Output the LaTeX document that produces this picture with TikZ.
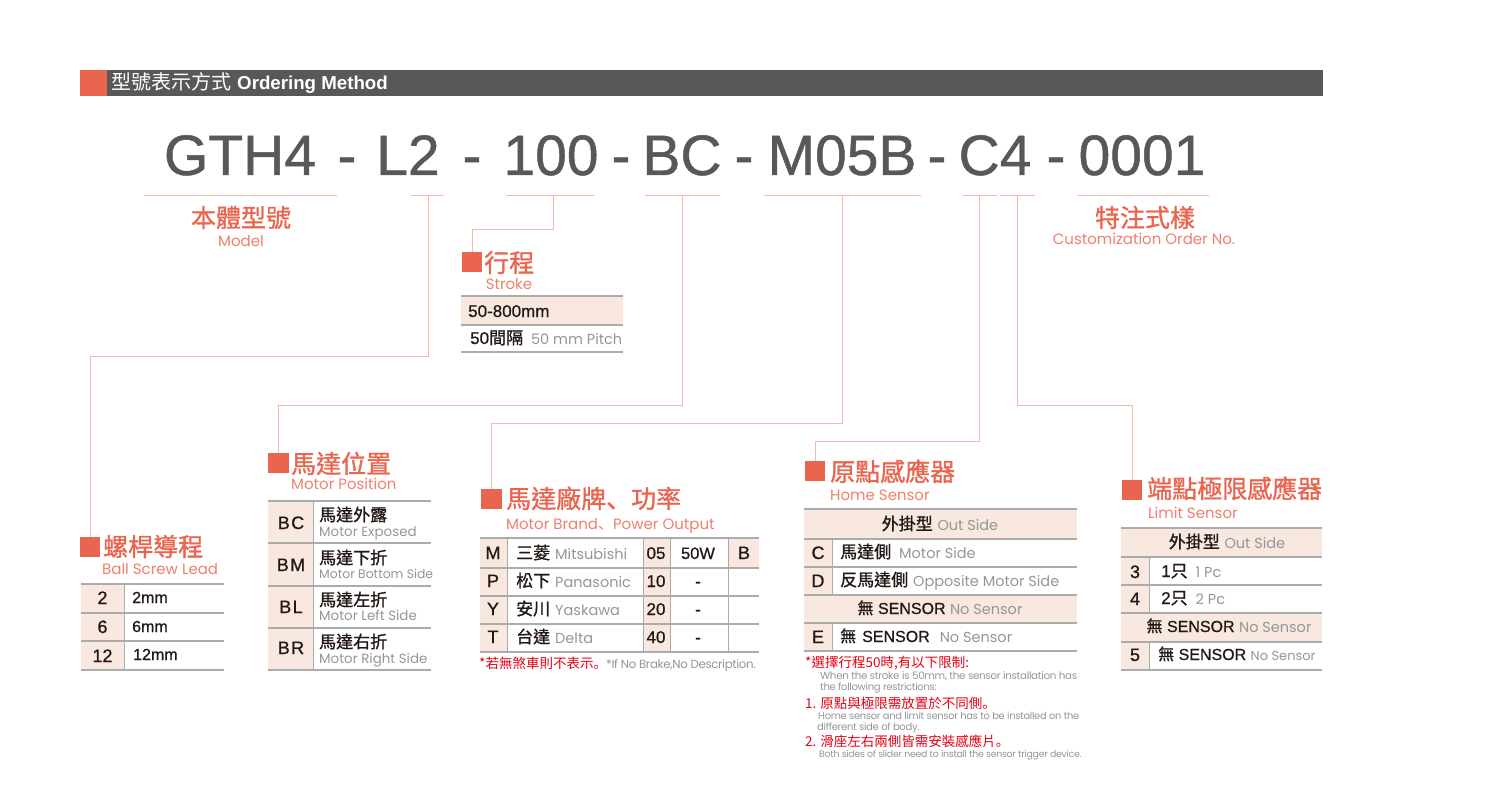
\documentclass[tikz,border=0pt]{standalone}
\usepackage{fontspec}
\setmainfont{Liberation Sans}
\newfontfamily\zh{Noto Sans CJK TC}
\newfontfamily\zhm{Noto Sans CJK TC}[FakeBold=1.2]
\newfontfamily\zhp{Noto Sans CJK SC}
\newfontfamily\zhpm{Noto Sans CJK SC}[FakeBold=1.2]
\newfontfamily\semi{Liberation Sans}[FakeBold=0.8]
\newfontfamily\en{Poppins}
\newfontfamily\entight{Poppins}[LetterSpace=-3]
\definecolor{coral}{HTML}{E9654F}
\definecolor{coralsub}{HTML}{EF7F6E}
\definecolor{leaderline}{HTML}{F7B7AB}
\definecolor{beige}{HTML}{F8E8E0}
\definecolor{rulegrey}{HTML}{ABABAB}
\definecolor{headdark}{HTML}{595757}
\definecolor{ink}{HTML}{231815}
\definecolor{greytext}{HTML}{959595}
\definecolor{notered}{HTML}{E60012}
\newcommand\zb[1]{{\zhm #1}}
\newcommand\gr[2][14.5]{{\en\fontsize{#1}{#1}\selectfont\color{greytext}#2}}
\tikzset{
  leader/.style={draw=leaderline, line width=.9pt},
  under/.style={draw=leaderline, line width=1pt},
  rowrule/.style={draw=rulegrey, line width=1.2pt},
  colrule/.style={draw=rulegrey, line width=1pt},
  titlebox/.style={fill=coral, inner sep=0pt, minimum size=20.5pt},
  title/.style={anchor=base west, inner sep=0pt, text=coral, font=\zhm\fontsize{25}{25}\selectfont},
  subtitle/.style={anchor=base west, inner sep=0pt, text=coralsub, font=\en\fontsize{15}{15}\selectfont},
  codepart/.style={anchor=base, inner sep=0pt, text=headdark, font=\semi\fontsize{57}{57}\selectfont},
  cell/.style={anchor=base west, inner sep=0pt, text=ink, font=\semi\fontsize{17}{17}\selectfont},
  key/.style={anchor=base, inner sep=0pt, text=ink, font=\semi\fontsize{18}{18}\selectfont},
  rednote/.style={anchor=base west, inner sep=0pt, text=notered, font=\zh\fontsize{13.5}{13.5}\selectfont},
  greynote/.style={anchor=base west, inner sep=0pt, text=greytext, font=\entight\fontsize{10}{10}\selectfont},
}
\begin{document}
\begin{tikzpicture}[x=1pt,y=-1pt]
\useasboundingbox (0,0) rectangle (1495,794);
\fill[headdark] (80,70) rectangle (1323,96);
\fill[coral] (80,70) rectangle (107,96);
\node[anchor=base west, inner sep=0pt, text=white] (head) at (111,90)
  {{\zh\fontsize{20}{20}\selectfont 型號表示方式}\hspace{6pt}{\bfseries\fontsize{18.7}{18.7}\selectfont Ordering Method}};
\foreach \x/\part/\name in {240/GTH4/gth,347/-/da,408/L2/ltwo,472/-/db,551/100/strk,621/-/dc,682/BC/bc,744/-/dd,842/M05B/mzero,937/-/de,995/C4/cfour,1056/-/df,1142/0001/order}
  \node[codepart] (\name) at (\x,175) {\part};
\foreach \a/\b in {144/337,411/444,506/594,645/720,764/921,963/997,1000/1035,1078/1209}
  \draw[under] (\a,196) -- (\b,196);
\coordinate (tickl) at (428,196);
\coordinate (tickst) at (553,196);
\coordinate (tickbc) at (682,196);
\coordinate (tickm) at (842,196);
\coordinate (tickc) at (979,196);
\coordinate (tickd) at (1017,196);

\node[title, anchor=base] (modelzh) at (241,227) {本體型號};
\node[subtitle, anchor=base] (modelen) at (241,247) {Model};
\node[title, anchor=base] (orderzh) at (1145,227) {特注式樣};
\node[subtitle, anchor=base] (orderen) at (1144,244) {Customization Order No.};

\node[titlebox] (strokebox) at (472,262) {};
\node[titlebox] (leadbox) at (90,547) {};
\node[titlebox] (posbox) at (278.5,463) {};
\node[titlebox] (brandbox) at (491.5,499) {};
\node[titlebox] (homebox) at (815,471) {};
\node[titlebox] (limitbox) at (1132,490) {};

\draw[leader] (tickl) -- (tickl|-0,356) -| (leadbox);
\draw[leader] (tickst) -- (tickst|-0,229) -| (strokebox);
\draw[leader] (tickbc) -- (tickbc|-0,405) -| (posbox);
\draw[leader] (tickm) -- (tickm|-0,423) -| (brandbox);
\draw[leader] (tickc) -- (tickc|-0,441) -| (homebox);
\draw[leader] (tickd) -- (tickd|-0,405) -| (limitbox);

\node[title] (strokezh) at (484,272) {行程};
\node[subtitle, anchor=base] (strokeen) at (509,289) {Stroke};
\fill[beige] (461,296) rectangle (623,325);
\foreach \y in {296,325,352} \draw[rowrule] (461,\y) -- (623,\y);
\node[cell] (strokea) at (468,317) {50-800mm};
\node[cell] (strokeb) at (470,344) {50\zb{間隔}\hspace{8pt}\gr{50 mm Pitch}};

\node[title] (leadzh) at (103,556) {螺桿導程};
\node[subtitle] (leaden) at (102,574) {Ball Screw Lead};
\fill[beige] (81,584) rectangle (124,670);
\foreach \y in {584,613,641,670} \draw[rowrule] (81,\y) -- (224,\y);
\draw[colrule] (124,584) -- (124,670);
\foreach \c/\yk/\t/\yt/\xt [count=\i] in {2/604/2mm/603/132,6/633/6mm/632/132,12/662/12mm/660/133}{
  \node[key] (leadkey\i) at (102.5,\yk) {\c};
  \node[cell, font=\semi\fontsize{16}{16}\selectfont] (leadtxt\i) at (\xt,\yt) {\t};
}

\node[title] (poszh) at (291,473) {馬達位置};
\node[subtitle] (posen) at (291,489) {Motor Position};
\fill[beige] (268,501) rectangle (313,670);
\foreach \y in {501,543,586,628,670} \draw[rowrule] (268,\y) -- (431,\y);
\draw[colrule] (313,501) -- (313,670);
\foreach \c/\yk/\zht/\yz/\ent/\ye [count=\i] in {BC/529/馬達外露/521/Motor Exposed/536,BM/571/馬達下折/564/Motor Bottom Side/578,BL/613/馬達左折/606/Motor Left Side/620,BR/654/馬達右折/648/Motor Right Side/663}{
  \node[key, font=\semi\fontsize{18}{18}\selectfont\addfontfeature{LetterSpace=8}] (poskey\i) at (291,\yk) {\c};
  \node[cell] (poszh\i) at (319,\yz) {\zb{\zht}};
  \node[cell] (posen\i) at (319,\ye) {\gr[\ifnum\i=2 12.4\else 13.4\fi]{\ent}};
}

\node[title] (brandzh) at (506,508) {馬達廠牌{\zhpm 、}功率};
\node[subtitle] (branden) at (506,529) {Motor Brand{\zhp、}Power Output};
\fill[beige] (480,538) rectangle (507,652);
\fill[beige] (643,538) rectangle (670,652);
\fill[beige] (728,538) rectangle (759,568);
\foreach \y in {538,568,596,624,652} \draw[rowrule] (480,\y) -- (759,\y);
\foreach \x in {507,643,670,728} \draw[colrule] (\x,538) -- (\x,652);
\foreach \c/\zht/\ent/\w/\val/\yb [count=\i] in {M/三菱/Mitsubishi/05/50W/559,P/松下/Panasonic/10/-/587,Y/安川/Yaskawa/20/-/615,T/台達/Delta/40/-/643}{
  \node[key] (brandkey\i) at (493,\yb) {\c};
  \node[cell] (brandname\i) at (516,\yb) {\zb{\zht}\hspace{5pt}\gr{\ent}};
  \node[key, font=\semi\fontsize{17}{17}\selectfont] (brandw\i) at (656,\yb) {\w};
  \node[key, font=\semi\fontsize{16.5}{16.5}\selectfont] (brandval\i) at (698,\yb) {\val};
}
\node[key] (brandb) at (744,559) {B};
\node[rednote] (brakezh) at (479,668) {*若無煞車則不表示{\zhp 。}};
\node[greynote, font=\entight\fontsize{11.8}{11.8}\selectfont] (brakeen) at (606,668) {*If No Brake,No Description.};

\node[title] (homezh) at (830,481) {原點感應器};
\node[subtitle] (homeen) at (830,500) {Home Sensor};
\fill[beige] (804,509) rectangle (1077,539);
\fill[beige] (804,595) rectangle (1077,623);
\fill[beige] (804,539) rectangle (832,595);
\fill[beige] (804,623) rectangle (832,651);
\foreach \y in {509,539,567,595,623,651} \draw[rowrule] (804,\y) -- (1077,\y);
\draw[colrule] (832,539) -- (832,595);
\draw[colrule] (832,623) -- (832,651);
\node[key, font=\semi\fontsize{17}{17}\selectfont] (homehead) at (940,530) {\zb{外掛型} \gr{Out Side}};
\node[key] (homekeyc) at (818,559) {C};
\node[cell] (homec) at (840,558) {\zb{馬達側}\hspace{8pt}\gr{Motor Side}};
\node[key] (homekeyd) at (818,587) {D};
\node[cell] (homed) at (840,586) {\zb{反馬達側}\hspace{5pt}\gr{Opposite Motor Side}};
\node[key, font=\semi\fontsize{16}{16}\selectfont] (homenone) at (940,614) {\zb{無} SENSOR \gr{No Sensor}};
\node[key] (homekeye) at (818,643) {E};
\node[cell, font=\semi\fontsize{16}{16}\selectfont] (homee) at (840,642) {\zb{無}\hspace{6pt}SENSOR\hspace{10pt}\gr{No Sensor}};
\node[rednote] (notea) at (805,667) {*選擇行程50時,有以下限制:};
\node[greynote, font=\entight\fontsize{10.3}{10.3}\selectfont] (noteb) at (820,679) {When the stroke is 50mm, the sensor installation has};
\node[greynote] (notec) at (820,690) {the following restrictions:};
\node[rednote] (noted) at (805,708) {1. 原點與極限需放置於不同側{\zhp 。}};
\node[greynote, font=\entight\fontsize{9.9}{9.9}\selectfont] (notee) at (818,719) {Home sensor and limit sensor has to be installed on the};
\node[greynote] (notef) at (817,730) {different side of body.};
\node[rednote] (noteg) at (805,746) {2. 滑座左右兩側皆需安裝感應片{\zhp 。}};
\node[greynote, font=\entight\fontsize{9.4}{9.4}\selectfont] (noteh) at (819,757) {Both sides of slider need to install the sensor trigger device.};

\node[title] (limitzh) at (1147,498) {端點極限感應器};
\node[subtitle] (limiten) at (1148,518) {Limit Sensor};
\fill[beige] (1121,528) rectangle (1322,557);
\fill[beige] (1121,613) rectangle (1322,642);
\fill[beige] (1121,557) rectangle (1149,613);
\fill[beige] (1121,642) rectangle (1149,670);
\foreach \y in {528,557,585,613,642,670} \draw[rowrule] (1121,\y) -- (1322,\y);
\draw[colrule] (1149,557) -- (1149,613);
\draw[colrule] (1149,642) -- (1149,670);
\node[key, font=\semi\fontsize{17}{17}\selectfont] (limithead) at (1227,548) {\zb{外掛型} \gr{Out Side}};
\node[key] (limitkeya) at (1135,578) {3};
\node[cell] (limita) at (1161,577) {1\zb{只}\hspace{8pt}\gr{1 Pc}};
\node[key] (limitkeyb) at (1135,605) {4};
\node[cell] (limitb) at (1161,604) {2\zb{只}\hspace{8pt}\gr{2 Pc}};
\node[key, font=\semi\fontsize{16}{16}\selectfont] (limitnone) at (1229,632) {\zb{無} SENSOR \gr{No Sensor}};
\node[key] (limitkeyc) at (1135,661) {5};
\node[cell, font=\semi\fontsize{16}{16}\selectfont] (limitc) at (1158,660) {\zb{無} SENSOR \gr[13]{No Sensor}};
\end{tikzpicture}
\end{document}
